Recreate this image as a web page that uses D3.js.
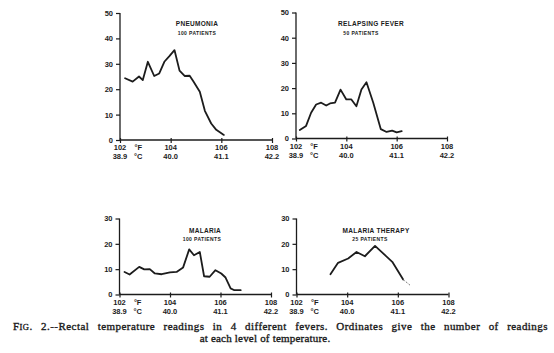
<!DOCTYPE html>
<html>
<head>
<meta charset="utf-8">
<script src="https://cdn.jsdelivr.net/npm/d3@7"></script>
<style>
  html, body { margin: 0; padding: 0; background: #ffffff; }
  svg { display: block; }
</style>
</head>
<body>
<svg id="chart" width="554" height="353"></svg>
<script>
// ---- data ----
const xTicksF = [102, 104, 106, 108];
const xTicksC = ["38.9", "40.0", "41.1", "42.2"];

const pneumoniaTemp  = [102.2, 102.5, 102.75, 102.9, 103.1, 103.35, 103.55, 103.75, 103.95, 104.15, 104.35, 104.55, 104.75, 104.9, 105.15, 105.35, 105.6, 105.8, 106.1];
const pneumoniaCount = [24.3, 23, 25, 23.6, 30.8, 25.2, 26.2, 30.8, 33, 35.4, 27.3, 25.2, 25.3, 23, 19, 11.5, 6.5, 4, 2];

const relapsingTemp  = [102.15, 102.4, 102.6, 102.8, 103.0, 103.2, 103.35, 103.55, 103.77, 104.0, 104.2, 104.4, 104.6, 104.8, 105.07, 105.37, 105.6, 105.82, 106.0, 106.2];
const relapsingCount = [3.4, 5, 10.2, 13.5, 14.2, 13.1, 13.9, 14.2, 19.4, 15.5, 15.5, 12.8, 19.4, 22.3, 14.2, 3.7, 2.6, 3.1, 2.4, 2.9];

const malariaTemp  = [102.2, 102.4, 102.78, 102.98, 103.2, 103.4, 103.67, 104.0, 104.26, 104.52, 104.76, 104.95, 105.18, 105.35, 105.57, 105.8, 106.03, 106.2, 106.4, 106.55, 106.8];
const malariaCount = [8.9, 7.9, 10.9, 9.9, 10, 8.3, 8, 8.7, 8.9, 10.7, 17.8, 15.5, 16.8, 7.2, 7, 9.6, 8.3, 6.7, 2.4, 1.7, 1.7];

const therapyTemp  = [103.34, 103.64, 104.04, 104.37, 104.7, 105.1, 105.42, 105.78, 106.21];
const therapyCount = [8, 12.5, 14.2, 16.8, 15.1, 19.2, 16.2, 12.9, 5.9];
const therapyTailTemp  = [106.21, 106.48];
const therapyTailCount = [5.9, 3.7];

const panels = [
  { title: "PNEUMONIA", sub: "100 PATIENTS", yMax: 50, yTicks: [0,10,20,30,40,50],
    x0: 120, x1: 272, y0: 140, y1: 13, titleX: 197, titleY: 26, subX: 197, subY: 35,
    temp: pneumoniaTemp, count: pneumoniaCount },
  { title: "RELAPSING FEVER", sub: "50 PATIENTS", yMax: 50, yTicks: [0,10,20,30,40,50],
    x0: 296, x1: 447, y0: 138.5, y1: 12.5, titleX: 371, titleY: 26, subX: 361, subY: 35,
    temp: relapsingTemp, count: relapsingCount },
  { title: "MALARIA", sub: "100 PATIENTS", yMax: 30, yTicks: [0,10,20,30],
    x0: 119.5, x1: 271, y0: 294.5, y1: 218.5, titleX: 205, titleY: 232.5, subX: 202, subY: 241,
    temp: malariaTemp, count: malariaCount },
  { title: "MALARIA THERAPY", sub: "25 PATIENTS", yMax: 30, yTicks: [0,10,20,30],
    x0: 296.5, x1: 448.5, y0: 294.5, y1: 218.5, titleX: 376, titleY: 232.5, subX: 370, subY: 241,
    temp: therapyTemp, count: therapyCount, tailTemp: therapyTailTemp, tailCount: therapyTailCount }
];

const ink = "#1c1c1c";
const svg = d3.select("#chart");
const labelFont = "'Liberation Sans', Arial, sans-serif";

panels.forEach(p => {
  const x = d3.scaleLinear().domain([102, 108]).range([p.x0, p.x1]);
  const y = d3.scaleLinear().domain([0, p.yMax]).range([p.y0, p.y1]);
  const g = svg.append("g");

  // y axis
  const ya = g.append("g").attr("transform", `translate(${p.x0},0)`)
    .call(d3.axisLeft(y).tickValues(p.yTicks).tickSize(4).tickPadding(3).tickFormat(d3.format("d")));
  ya.select(".domain").attr("stroke", ink).attr("stroke-width", 1.3).attr("d", `M0,${p.y0}V${p.y1}`);
  ya.selectAll(".tick line").attr("stroke", ink).attr("stroke-width", 1.2);
  ya.selectAll(".tick text").attr("fill", ink).attr("font-family", labelFont)
    .attr("font-weight", "bold").attr("font-size", 7.5);

  // x axis
  const xa = g.append("g").attr("transform", `translate(0,${p.y0})`)
    .call(d3.axisBottom(x).tickValues(xTicksF).tickSize(3).tickFormat(""));
  xa.select(".domain").attr("stroke", ink).attr("stroke-width", 1.3).attr("d", `M${p.x0},0H${p.x1}`);
  xa.selectAll(".tick line").attr("stroke", ink).attr("stroke-width", 1.2).attr("y1", -2);

  // two-row x labels
  const lab = g.append("g").attr("font-family", labelFont).attr("font-weight", "bold")
    .attr("font-size", 7.5).attr("fill", ink).attr("text-anchor", "middle");
  xTicksF.forEach((f, i) => {
    lab.append("text").attr("x", x(f)).attr("y", p.y0 + 10).text(String(f));
    lab.append("text").attr("x", x(f)).attr("y", p.y0 + 19).text(xTicksC[i]);
  });
  lab.append("text").attr("x", x(102.72)).attr("y", p.y0 + 10).text("°F");
  lab.append("text").attr("x", x(102.72)).attr("y", p.y0 + 19).text("°C");

  // titles
  g.append("text").attr("x", p.titleX).attr("y", p.titleY).attr("text-anchor", "middle")
    .attr("font-family", labelFont).attr("font-weight", "bold").attr("font-size", 6.5)
    .attr("letter-spacing", 0.3).attr("fill", ink).text(p.title);
  g.append("text").attr("x", p.subX).attr("y", p.subY).attr("text-anchor", "middle")
    .attr("font-family", labelFont).attr("font-weight", "bold").attr("font-size", 5)
    .attr("letter-spacing", 0.4).attr("fill", ink).text(p.sub);

  // data line
  const line = d3.line().x(d => x(d[0])).y(d => y(d[1])).curve(d3.curveLinear);
  g.append("path").datum(p.temp.map((t, i) => [t, p.count[i]]))
    .attr("fill", "none").attr("stroke", ink).attr("stroke-width", 1.8)
    .attr("stroke-linejoin", "round").attr("stroke-linecap", "round").attr("d", line);
  if (p.tailTemp) {
    g.append("path").datum(p.tailTemp.map((t, i) => [t, p.tailCount[i]]))
      .attr("fill", "none").attr("stroke", "#777").attr("stroke-width", 1)
      .attr("stroke-dasharray", "2,1.5").attr("d", line);
  }
});

// caption
const cap = svg.append("g").attr("font-family", "'Liberation Serif', 'Times New Roman', serif")
  .attr("font-size", 11).attr("fill", "#1a1a1a")
  .attr("stroke", "#1a1a1a").attr("stroke-width", 0.35);
const line1 = ". 2.--Rectal temperature readings in 4 different fevers. Ordinates give the number of readings";
const c1 = cap.append("text").attr("x", 13).attr("y", 330).attr("letter-spacing", 0.45);
c1.append("tspan").text("F");
c1.append("tspan").attr("font-size", 8.5).text("IG");
c1.append("tspan").text(line1);
// justify line 1 to the full caption width using word spacing
const target = 535;
const natural = c1.node().getComputedTextLength();
const spaces = (line1.match(/ /g) || []).length;
if (spaces > 0 && natural < target) c1.attr("word-spacing", (target - natural) / spaces);
cap.append("text").attr("x", 265).attr("y", 342).attr("text-anchor", "middle")
  .attr("letter-spacing", 0.2).text("at each level of temperature.");
</script>
</body>
</html>
